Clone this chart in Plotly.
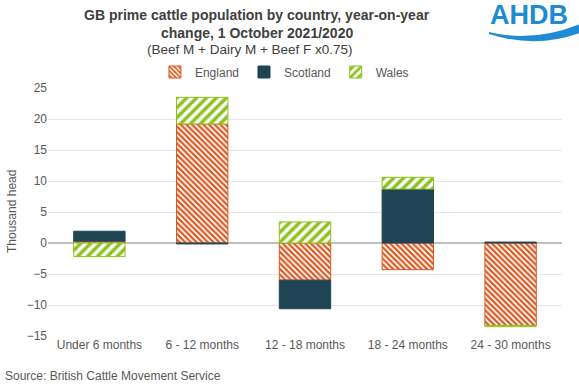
import plotly.graph_objects as go

categories = ["Under 6 months", "6 - 12 months", "12 - 18 months", "18 - 24 months", "24 - 30 months"]
england = [0.3, 19.2, -6.0, -4.3, -13.3]
scotland = [1.6, -0.15, -4.6, 8.7, 0.15]
wales = [-2.2, 4.3, 3.4, 1.9, -0.2]
y_ticks = [25, 20, 15, 10, 5, 0, -5, -10, -15]

ENG = "#DA5A22"
SCO = "#1F4554"
WAL = "#8DC21F"
GRAY = "#595959"
FONT = "Liberation Sans, Arial, sans-serif"

fig = go.Figure()
fig.add_trace(go.Bar(
    name="England", x=categories, y=england,
    marker=dict(color="white", line=dict(color=ENG, width=1),
                pattern=dict(shape="\\", fgcolor=ENG, bgcolor="white", size=4,
                             solidity=0.55, fgopacity=1)),
))
fig.add_trace(go.Bar(
    name="Scotland", x=categories, y=scotland,
    marker=dict(color=SCO, line=dict(color=SCO, width=1)),
))
fig.add_trace(go.Bar(
    name="Wales", x=categories, y=wales,
    marker=dict(color="white", line=dict(color=WAL, width=1),
                pattern=dict(shape="/", fgcolor=WAL, bgcolor="white", size=7,
                             solidity=0.5, fgopacity=1)),
))

# paper-coordinate helpers for title/logo placement
L, R, T, B = 48, 562, 88, 336
def px(x):
    return (x - L) / (R - L)
def py(y):
    return (B - y) / (B - T)

annotations = [
    dict(text="<b>GB prime cattle population by country, year-on-year</b>", x=px(257), y=py(15),
         font=dict(size=14, color="#404040")),
    dict(text="<b>change, 1 October 2021/2020</b>", x=px(257), y=py(33),
         font=dict(size=14, color="#404040")),
    dict(text="(Beef M + Dairy M + Beef F x0.75)", x=px(250), y=py(50),
         font=dict(size=13.5, color="#404040")),
    dict(text="Source: British Cattle Movement Service", x=px(3), y=py(376), xanchor="left",
         font=dict(size=12, color=GRAY)),
    dict(text="Thousand head", x=px(12), y=py(212), textangle=-90,
         font=dict(size=12, color=GRAY)),
    dict(text="<b>AHDB</b>", x=px(570), y=py(15), xanchor="right",
         font=dict(size=27, color="#1E8BD2", family="Liberation Sans, Arial")),
]
for a in annotations:
    a.setdefault("xanchor", "center")
    a.update(xref="paper", yref="paper", showarrow=False, yanchor="middle")

wave = ("M {x0},{y0} Q {x1},{y1} {x2},{y2} L {x3},{y3} Q {x4},{y4} {x5},{y5} Z").format(
    x0=px(489), y0=py(32), x1=px(532), y1=py(43), x2=px(580), y2=py(24),
    x3=px(580), y3=py(33), x4=px(536), y4=py(49), x5=px(489), y5=py(34))

fig.update_layout(
    width=579, height=386,
    margin=dict(l=L, r=579 - R, t=T, b=386 - B, autoexpand=False),
    paper_bgcolor="white", plot_bgcolor="white",
    barmode="relative", bargap=0.5,
    font=dict(family=FONT, color=GRAY, size=12),
    showlegend=True,
    legend=dict(orientation="h", x=0.46, xanchor="center", y=py(72), yanchor="middle",
                font=dict(size=12, color=GRAY), itemwidth=30, traceorder="normal"),
    annotations=annotations,
    shapes=[dict(type="path", path=wave, xref="paper", yref="paper",
                 fillcolor="#1E8BD2", line=dict(width=0))],
    xaxis=dict(showgrid=False, showline=False, ticks="", automargin=False,
               tickfont=dict(size=12, color=GRAY)),
    yaxis=dict(range=[-15, 25], tickvals=y_ticks, showgrid=True, gridcolor="#E6E6E6",
               zeroline=True, zerolinecolor="#BFBFBF", zerolinewidth=1.5, automargin=False,
               tickfont=dict(size=12, color=GRAY), ticks="", ticklen=0),
)

fig.write_html("out.html", config={"displayModeBar": False},
               post_script="document.body.style.margin='0';document.body.style.overflow='hidden';")
